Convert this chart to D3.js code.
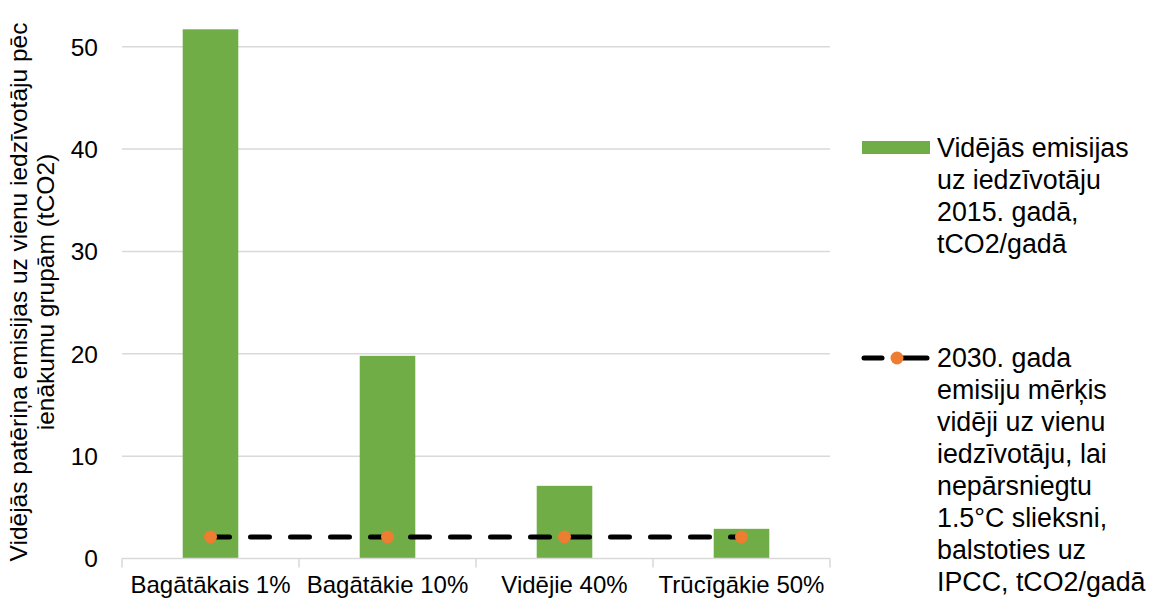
<!DOCTYPE html>
<html>
<head>
<meta charset="utf-8">
<script src="https://cdn.jsdelivr.net/npm/d3@7"></script>
<style>
  html, body { margin: 0; padding: 0; background: #fff; }
  svg { display: block; font-family: "Liberation Sans", Arial, sans-serif; }
</style>
</head>
<body>
<svg id="chart" width="1149" height="598"></svg>
<script>
// ---- data ----
const categories = ["Bagātākais 1%", "Bagātākie 10%", "Vidējie 40%", "Trūcīgākie 50%"];
const emissions2015 = [51.7, 19.8, 7.1, 2.9];
const target2030 = [2.1, 2.1, 2.1, 2.1];
const yTicks = [0, 10, 20, 30, 40, 50];
const yTitleLines = ["Vidējās patēriņa emisijas uz vienu iedzīvotāju pēc", "ienākumu grupām (tCO2)"];
const legendBarLines = ["Vidējās emisijas", "uz iedzīvotāju", "2015. gadā,", "tCO2/gadā"];
const legendLineLines = ["2030. gada", "emisiju mērķis", "vidēji uz vienu", "iedzīvotāju, lai", "nepārsniegtu", "1.5°C slieksni,", "balstoties uz", "IPCC, tCO2/gadā"];

const GREEN = "#70AD47", ORANGE = "#ED7D31", GRID = "#D9D9D9";

const svg = d3.select("#chart");
const plot = { left: 122, right: 830, top: 46.7, bottom: 558.5 };

const x = d3.scaleBand().domain(categories).range([plot.left, plot.right]).padding(0);
const y = d3.scaleLinear().domain([0, 50]).range([plot.bottom, plot.top]);
const barW = x.bandwidth() * 0.314;

// gridlines
svg.append("g").selectAll("line").data(yTicks.filter(d => d > 0)).join("line")
  .attr("x1", plot.left).attr("x2", plot.right)
  .attr("y1", d => y(d)).attr("y2", d => y(d))
  .attr("stroke", GRID).attr("stroke-width", 1.5);

// y tick labels
svg.append("g").selectAll("text").data(yTicks).join("text")
  .attr("x", 98).attr("y", d => y(d)).attr("dy", "0.36em")
  .attr("text-anchor", "end").attr("font-size", 24.5).attr("fill", "#000")
  .text(d => d);

// bars
svg.append("g").selectAll("rect").data(categories).join("rect")
  .attr("x", (d) => x(d) + x.bandwidth() / 2 - barW / 2)
  .attr("width", barW)
  .attr("y", (d, i) => y(emissions2015[i]))
  .attr("height", (d, i) => y(0) - y(emissions2015[i]))
  .attr("fill", GREEN);

// x axis line + boundary ticks
svg.append("line").attr("x1", plot.left).attr("x2", plot.right)
  .attr("y1", y(0)).attr("y2", y(0)).attr("stroke", GRID).attr("stroke-width", 1.5);
const bounds = categories.map(c => x(c)).concat([x.range()[1]]);
svg.append("g").selectAll("line").data(bounds).join("line")
  .attr("x1", d => d).attr("x2", d => d)
  .attr("y1", y(0)).attr("y2", y(0) + 9)
  .attr("stroke", GRID).attr("stroke-width", 1.5);

// category labels
svg.append("g").selectAll("text").data(categories).join("text")
  .attr("x", d => x(d) + x.bandwidth() / 2).attr("y", 593)
  .attr("text-anchor", "middle").attr("font-size", 24).attr("fill", "#000")
  .text(d => d);

// dashed target line
const line = d3.line().x((d, i) => x(categories[i]) + x.bandwidth() / 2).y(d => y(d));
svg.append("path").datum(target2030).attr("d", line)
  .attr("fill", "none").attr("stroke", "#000").attr("stroke-width", 5)
  .attr("stroke-dasharray", "19 21").attr("stroke-linecap", "round");
svg.append("g").selectAll("circle").data(target2030).join("circle")
  .attr("cx", (d, i) => x(categories[i]) + x.bandwidth() / 2)
  .attr("cy", d => y(d)).attr("r", 6.5).attr("fill", ORANGE);

// y axis title
const yt = svg.append("text").attr("font-size", 24.5).attr("fill", "#000")
  .attr("text-anchor", "middle")
  .attr("transform", "translate(0,292) rotate(-90)");
yTitleLines.forEach((t, i) => {
  yt.append("tspan").attr("x", 0).attr("y", 27 + i * 27).text(t);
});

// legend
const lg = svg.append("g");
lg.append("rect").attr("x", 862).attr("y", 141).attr("width", 68).attr("height", 13).attr("fill", GREEN);
lg.append("g").selectAll("text").data(legendBarLines).join("text")
  .attr("x", 937).attr("y", (d, i) => 157 + i * 32)
  .attr("font-size", 26.8).attr("fill", "#000").text(d => d);

lg.append("line").attr("x1", 864).attr("x2", 882).attr("y1", 358).attr("y2", 358)
  .attr("stroke", "#000").attr("stroke-width", 5).attr("stroke-linecap", "round");
lg.append("line").attr("x1", 900).attr("x2", 927).attr("y1", 358).attr("y2", 358)
  .attr("stroke", "#000").attr("stroke-width", 5).attr("stroke-linecap", "round");
lg.append("circle").attr("cx", 897).attr("cy", 358).attr("r", 6.5).attr("fill", ORANGE);
lg.append("g").selectAll("text").data(legendLineLines).join("text")
  .attr("x", 937).attr("y", (d, i) => 367 + i * 32)
  .attr("font-size", 26.8).attr("fill", "#000").text(d => d);
</script>
</body>
</html>
